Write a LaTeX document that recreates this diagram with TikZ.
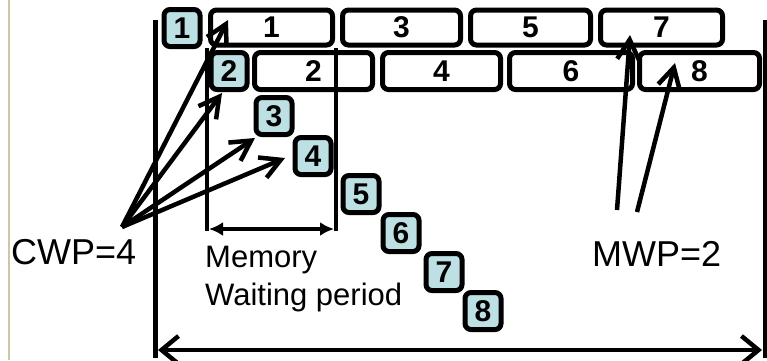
\documentclass[tikz,border=0pt]{standalone}
\usepackage{fontspec}
\setmainfont{Liberation Sans}
\usetikzlibrary{arrows.meta}
\definecolor{cellblue}{RGB}{189,224,228}
\definecolor{edgetan}{RGB}{205,198,168}

\begin{document}
\begin{tikzpicture}[x=1pt,y=-1pt,
  wide/.style={draw, line width=5pt, rounded corners=6pt, fill=white,
    minimum height=35pt, inner sep=0pt, font=\fontsize{30}{30}\selectfont\bfseries},
  cell/.style={draw, line width=5pt, rounded corners=6pt, fill=cellblue,
    minimum width=36pt, minimum height=37pt, inner sep=0pt,
    font=\fontsize{30}{30}\selectfont\bfseries},
  ptr/.style={line width=4.5pt, -{Straight Barb[length=20pt,width=22pt]}},
  bar/.style={line width=5pt},
  txt/.style={anchor=base west, inner sep=0pt},
]
\useasboundingbox (0,0) rectangle (767,360);
\draw[edgetan, line width=2pt] (9,0) -- (9,360);

% processor row 1 (odd) and row 2 (even)
\node[wide, minimum width=122pt] (w1) at (271.5,27.5) {1};
\node[wide, minimum width=118pt] (w3) at (401.5,27.5) {3};
\node[wide, minimum width=120pt] (w5) at (530.5,27.5) {5};
\node[wide, minimum width=122pt] (w7) at (661.5,27.5) {7};
\node[wide, minimum width=118pt, minimum height=37pt] (w2) at (313.5,71) {2};
\node[wide, minimum width=118pt, minimum height=37pt] (w4) at (441.5,71) {4};
\node[wide, minimum width=123pt, minimum height=37pt] (w6) at (571,71) {6};
\node[wide, minimum width=120pt, minimum height=37pt] (w8) at (699.5,71) {8};

% memory waiting period
\coordinate (ml) at (207,48);
\coordinate (mr) at (336,48);
\coordinate (mlb) at (207,231);
\coordinate (mrb) at (336,231);
\draw[line width=4pt] (ml) -- (mlb);
\draw[line width=4pt] (mr) -- (mrb);
\draw[line width=3.5pt, {Latex[length=14pt,width=14pt]}-{Latex[length=14pt,width=14pt]}]
  (209,229) -- (334,229);

% compute steps
\node[cell] (s1) at (182,28) {1};
\node[cell] (s2) at (229,71) {2};
\node[cell] (s3) at (274,116) {3};
\node[cell] (s4) at (313,156) {4};
\node[cell] (s5) at (361,194) {5};
\node[cell] (s6) at (401,233) {6};
\node[cell] (s7) at (444,272) {7};
\node[cell] (s8) at (483,311) {8};

% outer time span
\coordinate (lt) at (155,20);
\coordinate (lb) at (155,358);
\coordinate (rt) at (765,20);
\coordinate (rb) at (765,358);
\draw[bar] (lt) -- (lb);
\draw[bar] (rt) -- (rb);
\draw[line width=4.5pt, {Straight Barb[length=17pt,width=28pt]}-{Straight Barb[length=17pt,width=28pt]}]
  (158,350) -- (762,350);

% CWP pointers
\coordinate (cwp) at (122,227);
\coordinate (c1) at (228,20);
\coordinate (c2) at (222,93);
\coordinate (c3) at (255,138);
\coordinate (c4) at (285,158);
\foreach \t in {c1,c2,c3,c4} \draw[ptr] (cwp) -- (\t);

% MWP pointers
\coordinate (m1a) at (617,210);
\coordinate (m1) at (630,35);
\coordinate (m2a) at (637,212);
\coordinate (m2) at (675,63);
\draw[ptr] (m1a) -- (m1);
\draw[ptr] (m2a) -- (m2);

% labels
\node[txt, font=\fontsize{36}{36}\selectfont] (cwpl) at (11,264) {CWP=4};
\node[txt, font=\fontsize{36}{36}\selectfont] (mwpl) at (592,266) {MWP=2};
\node[txt, font=\fontsize{31}{31}\selectfont] (mem) at (205,267) {Memory};
\node[txt, font=\fontsize{31}{31}\selectfont] (wait) at (205,305) {Waiting period};
\end{tikzpicture}
\end{document}
